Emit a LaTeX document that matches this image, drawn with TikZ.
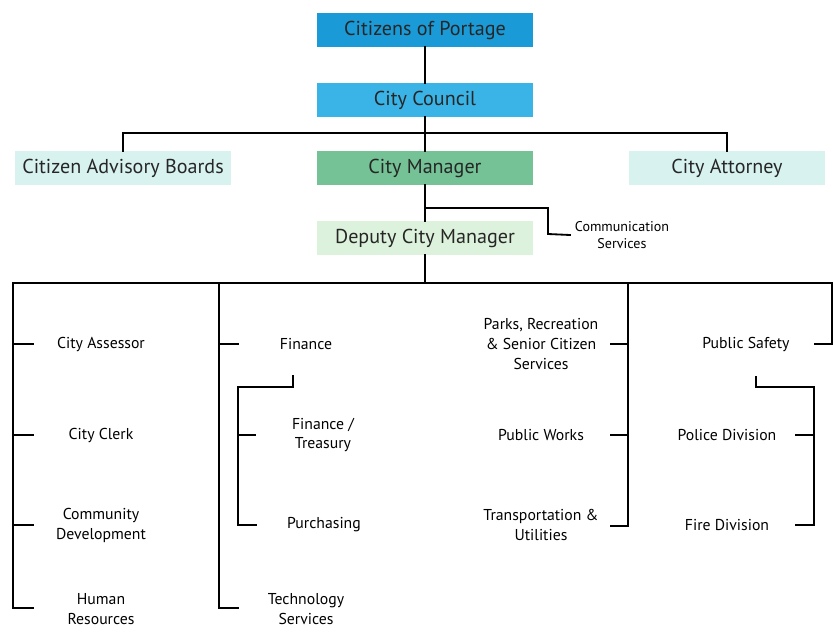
\documentclass[tikz,border=0pt]{standalone}
\usepackage{fontspec}
\setmainfont{PT Sans}
\usepackage{tikz}
\usetikzlibrary{positioning}
\definecolor{portageblue}{HTML}{1A9AD7}
\definecolor{councilblue}{HTML}{3AB4E6}
\definecolor{managergreen}{HTML}{74C295}
\definecolor{deputygreen}{HTML}{DDF2DC}
\definecolor{boardcyan}{HTML}{D8F2F0}

\begin{document}
\begin{tikzpicture}[x=0.025cm, y=-0.025cm]
% STYLES
\tikzset{
    topbox/.style={rectangle, minimum width=5.4cm, minimum height=0.85cm,
    inner sep=0pt, text=black!85, font=\fontsize{14.3}{17}\selectfont},
    unit/.style={align=center, inner sep=1pt, text=black,
    font=\fontsize{11.2}{14.2}\selectfont},
    smallunit/.style={align=center, text=black,
    font=\fontsize{10}{12}\selectfont},
    link/.style={line width=1.3pt, line cap=rect}
}
\useasboundingbox (0,0) rectangle (833,632);

% top of the chart
\node [topbox, fill=portageblue] (citizens) at (425,30) {Citizens of Portage};
\node [topbox, fill=councilblue] (council) at (425,100) {City Council};
\node [topbox, fill=managergreen] (manager) at (425,168) {City Manager};
\node [topbox, fill=boardcyan] (boards) at (123,168) {Citizen Advisory Boards};
\node [topbox, fill=boardcyan, minimum width=4.9cm] (attorney) at (727,168) {City Attorney};
\node [topbox, fill=deputygreen] (deputy) at (425,238) {Deputy City Manager};
\node [smallunit, anchor=west] (comms) at (570,235) {Communication\\Services};

% departments
\node [unit] (assessor) at (101,344) {City Assessor};
\node [unit] (clerk) at (101,435) {City Clerk};
\node [unit] (community) at (101,525) {Community\\Development};
\node [unit] (hr) at (101,609) {Human\\Resources};

\node [unit] (finance) at (306,344) {Finance};
\node [unit] (treasury) at (323,435) {Finance /\\Treasury};
\node [unit] (purchasing) at (324,525) {Purchasing};
\node [unit] (tech) at (306,609) {Technology\\Services};

\node [unit] (parks) at (541,344) {Parks, Recreation\\\& Senior Citizen\\Services};
\node [unit] (works) at (541,435) {Public Works};
\node [unit] (transport) at (541,525) {Transportation \&\\Utilities};

\node [unit] (safety) at (746,344) {Public Safety};
\node [unit] (police) at (727,435) {Police Division};
\node [unit] (fire) at (727,525) {Fire Division};

% junctions
\coordinate (topbus) at (425,133);
\coordinate (commsplit) at (425,208);
\coordinate (commturn) at (548,234);
\coordinate (deptbus) at (425,283);
\coordinate (busA) at (13,283);
\coordinate (busB) at (219,283);
\coordinate (busC) at (628,283);
\coordinate (busD) at (832,283);
\coordinate (colAend) at (13,608);
\coordinate (colBend) at (219,608);
\coordinate (colCend) at (628,526);
\coordinate (finjoin) at (293,376);
\coordinate (finturn) at (238,387);
\coordinate (safejoin) at (756,377);
\coordinate (safeturn) at (814,387);

% Draw the links between
\draw[link] (citizens) -- (council);
\draw[link] (council) -- (topbus) -- (manager);
\draw[link] (boards.north) |- (topbus) -| (attorney.north);
\draw[link] (manager) -- (deputy);
\draw[link] (commsplit) -| (commturn) -- (comms.west);
\draw[link] (deputy) -- (deptbus);
\draw[link] (busA) -- (busD);

% first column
\draw[link] (busA) -- (colAend) -- ++(20,0);
\draw[link] (assessor -| busA) -- ++(20,0);
\draw[link] (clerk -| busA) -- ++(20,0);
\draw[link] (community -| busA) -- ++(20,0);

% second column
\draw[link] (busB) -- (colBend) -- ++(19,0);
\draw[link] (finance -| busB) -- ++(19,0);
\draw[link] (finjoin) |- (finturn) -- (finturn |- purchasing) -- ++(18,0);
\draw[link] (treasury -| finturn) -- ++(17,0);

% third column
\draw[link] (busC) -- (colCend) -- ++(-17,0);
\draw[link] (parks -| busC) -- ++(-17,0);
\draw[link] (works -| busC) -- ++(-17,0);

% fourth column
\draw[link] (busD) -- (safety -| busD) -- ++(-17,0);
\draw[link] (safejoin) |- (safeturn) -- (safeturn |- fire) -- ++(-18,0);
\draw[link] (police -| safeturn) -- ++(-18,0);

\end{tikzpicture}
\end{document}
